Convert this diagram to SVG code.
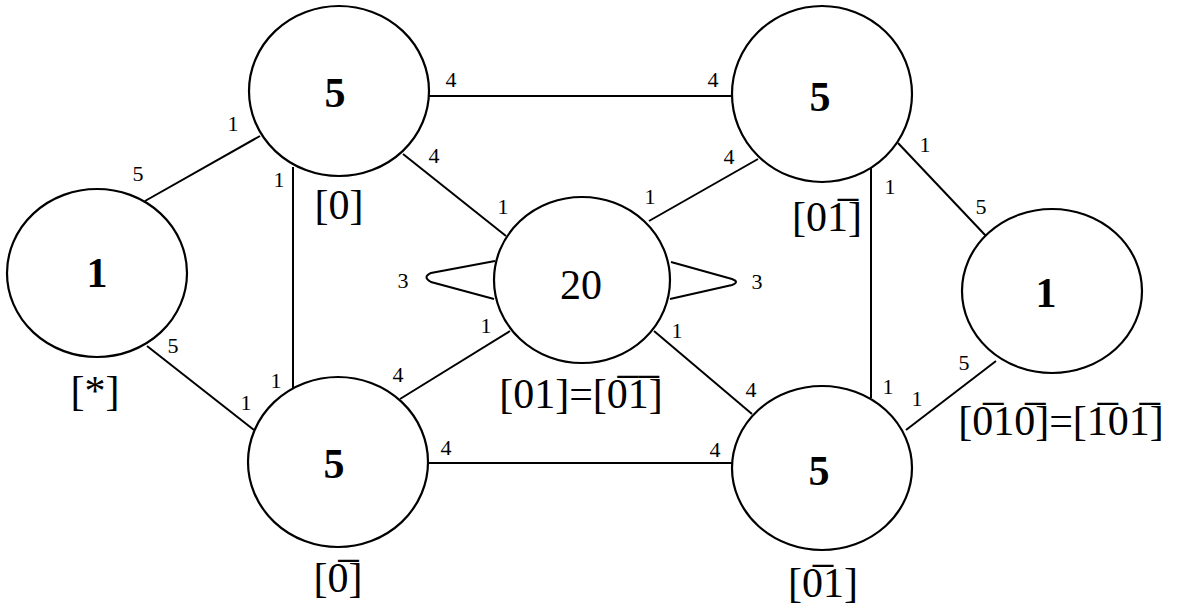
<svg xmlns="http://www.w3.org/2000/svg" width="1177" height="608" viewBox="0 0 1177 608">
<style>
.n{fill:none;stroke:#000;stroke-width:2.2}
.e{fill:none;stroke:#000;stroke-width:2}
.v{font-family:"Liberation Serif","Times New Roman",serif;font-size:42px;font-weight:bold;text-anchor:middle;fill:#000}
.vn{font-weight:normal}
.lb{font-family:"Liberation Serif","Times New Roman",serif;font-size:42px;text-anchor:middle;fill:#000}
.p{font-family:"Liberation Serif","Times New Roman",serif;font-size:22px;text-anchor:middle;fill:#000}
</style>
<rect width="1177" height="608" fill="#fff"/>
<g id="connectors">
<line class="e" x1="145" y1="201" x2="260" y2="136"/>
<line class="e" x1="147" y1="346" x2="254" y2="430"/>
<line class="e" x1="293" y1="167" x2="293" y2="389"/>
<line class="e" x1="429" y1="96" x2="733" y2="96"/>
<line class="e" x1="403" y1="154" x2="506" y2="236"/>
<line class="e" x1="649" y1="221" x2="758" y2="159"/>
<line class="e" x1="510" y1="331" x2="400" y2="399"/>
<line class="e" x1="654" y1="331" x2="752" y2="414"/>
<line class="e" x1="428" y1="463" x2="732" y2="463"/>
<line class="e" x1="871" y1="168" x2="871" y2="398"/>
<line class="e" x1="898" y1="143" x2="986" y2="236"/>
<line class="e" x1="906" y1="430" x2="996" y2="361"/>
<path class="e" d="M495,261 L431,273 Q422,277 431,282 L494,299"/>
<path class="e" d="M671,262 L732,279 Q740,282 732,285 L670,299"/>
<g id="port-labels">
<text class="p" x="233" y="131">1</text>
<text class="p" x="138" y="181">5</text>
<text class="p" x="279" y="187">1</text>
<text class="p" x="451" y="87">4</text>
<text class="p" x="434" y="163">4</text>
<text class="p" x="503" y="214">1</text>
<text class="p" x="650" y="204">1</text>
<text class="p" x="713" y="87">4</text>
<text class="p" x="729" y="164">4</text>
<text class="p" x="403" y="288">3</text>
<text class="p" x="757" y="289">3</text>
<text class="p" x="925" y="152">1</text>
<text class="p" x="890" y="194">1</text>
<text class="p" x="981" y="214">5</text>
<text class="p" x="964" y="370">5</text>
<text class="p" x="888" y="394">1</text>
<text class="p" x="917" y="406">1</text>
<text class="p" x="173" y="353">5</text>
<text class="p" x="246" y="410">1</text>
<text class="p" x="276" y="388">1</text>
<text class="p" x="398" y="382">4</text>
<text class="p" x="446" y="455">4</text>
<text class="p" x="486" y="333">1</text>
<text class="p" x="677" y="338">1</text>
<text class="p" x="751" y="397">4</text>
<text class="p" x="715" y="457">4</text>
</g>
</g>
<g id="node-tl">
<ellipse class="n" cx="339" cy="91" rx="90" ry="85"/>
<text class="v" x="335" y="107">5</text>
<text class="lb" x="339" y="219">[0]</text>
</g>
<g id="node-l">
<ellipse class="n" cx="97" cy="273" rx="90" ry="84"/>
<text class="v" x="97" y="287">1</text>
<text class="lb" x="95" y="405">[*]</text>
</g>
<g id="node-tr">
<ellipse class="n" cx="822" cy="94" rx="90" ry="88"/>
<text class="v" x="820" y="111">5</text>
<text class="lb" x="827" y="231">[01̅]</text>
</g>
<g id="node-c">
<ellipse class="n" cx="582" cy="280" rx="88" ry="83"/>
<text class="v vn" x="581" y="299">20</text>
<text class="lb" x="581" y="408">[01]=[0̅1̅]</text>
</g>
<g id="node-bl">
<ellipse class="n" cx="338" cy="462" rx="90" ry="85"/>
<text class="v" x="334" y="478">5</text>
<text class="lb" x="338" y="592">[0̅]</text>
</g>
<g id="node-br">
<ellipse class="n" cx="822" cy="468" rx="90" ry="82"/>
<text class="v" x="819" y="485">5</text>
<text class="lb" x="823" y="597">[0̅1]</text>
</g>
<g id="node-r">
<ellipse class="n" cx="1052" cy="291" rx="90" ry="82"/>
<text class="v" x="1046" y="307">1</text>
<text class="lb" x="1061" y="435">[0̅10̅]=[1̅01̅]</text>
</g>
</svg>
